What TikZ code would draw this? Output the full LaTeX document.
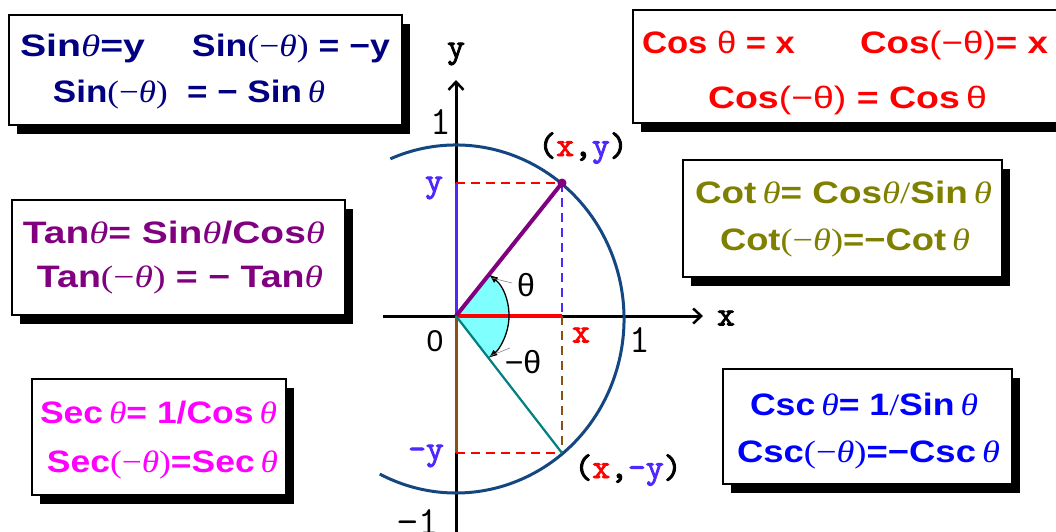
\documentclass[tikz,border=0pt]{standalone}
\usepackage{fontspec}
\setmainfont{Liberation Sans}
\newfontfamily\serf{Liberation Serif}
\newfontfamily\courb{lmmono10-regular}[Extension=.otf, FakeBold=2.5]
\usetikzlibrary{arrows.meta,shadows,calc}
\definecolor{navyc}{RGB}{0,0,128}
\definecolor{purp}{RGB}{128,0,128}
\definecolor{olivec}{RGB}{128,128,0}
\definecolor{magc}{RGB}{255,0,255}
\definecolor{bluec}{RGB}{0,0,255}
\definecolor{vio}{RGB}{80,40,255}
\definecolor{circc}{RGB}{20,70,130}
\definecolor{brownc}{RGB}{140,80,20}
\definecolor{tealc}{RGB}{0,128,128}
\definecolor{cyanf}{RGB}{128,255,255}
\newcommand\tht{{\serf\mdseries\itshape θ}}
\newcommand\mth{{\serf\mdseries(−\itshape θ\upshape)}}
\newcommand\uth{{\mdseries θ}}
\newcommand\umth{{\mdseries(−θ)}}
\newcommand\fw[2]{\resizebox{#1pt}{\height}{#2}}
\tikzset{
  panel/.style={draw=black, line width=1.2pt, fill=white, inner sep=0pt,
    general shadow={fill=black, shadow xshift=8pt, shadow yshift=-9pt}},
  eq/.style={anchor=base, inner sep=0pt, font=\fontsize{31}{33}\selectfont\bfseries},
  mlab/.style={inner sep=0pt, font=\courb\fontsize{34}{36}\selectfont},
  nlab/.style={inner sep=0pt, font=\ttfamily\fontsize{40}{42}\selectfont},
  zlab/.style={inner sep=0pt, font=\fontsize{30}{32}\selectfont},
  tlab/.style={inner sep=0pt, font=\fontsize{32}{34}\selectfont},
  axis/.style={line width=3pt, black},
  axarrow/.style={-{Straight Barb[length=8pt,width=15pt,line width=2.5pt]}},
  dsh/.style={line width=1.5pt, dash pattern=on 9pt off 6pt},
}
\begin{document}
\begin{tikzpicture}[x=1pt,y=-1pt]
\clip (0,0) rectangle (1056,531);
\fill[white] (0,0) rectangle (1056,531);
% panels
\node[panel, minimum width=393pt, minimum height=110pt] (sinbox) at (205.5,70) {};
\node[panel, minimum width=437pt, minimum height=113pt] (cosbox) at (851.5,66.5) {};
\node[panel, minimum width=333pt, minimum height=115pt] (tanbox) at (178.5,257.5) {};
\node[panel, minimum width=319pt, minimum height=117pt] (cotbox) at (842.5,218.5) {};
\node[panel, minimum width=254pt, minimum height=116pt] (secbox) at (159,437) {};
\node[panel, minimum width=289pt, minimum height=115pt] (cscbox) at (867.5,426.5) {};
% equations
\node[eq, text=navyc] (sin1a) at (82.5,56) {\fw{125}{Sin\tht=y}};
\node[eq, text=navyc] (sin1b) at (291,56) {\fw{198}{Sin\mth\ =\ −y}};
\node[eq, text=navyc] (sin2) at (189,102) {\fw{272}{Sin\mth\ \ = − Sin\,\tht}};
\node[eq, text=red] (cos1a) at (718.5,53) {\fw{153}{Cos \uth\ = x}};
\node[eq, text=red] (cos1b) at (954,53) {\fw{188}{Cos\umth= x}};
\node[eq, text=red] (cos2) at (847.5,108) {\fw{279}{Cos\umth\ = Cos\,\uth}};
\node[eq, text=purp] (tan1) at (174,243) {\fw{302}{Tan\tht = Sin\tht/Cos\tht}};
\node[eq, text=purp] (tan2) at (180,287) {\fw{286}{Tan\mth\ = − Tan\tht}};
\node[eq, text=olivec] (cot1) at (843.5,203) {\fw{297}{Cot\,\tht = Cos\tht{\serf\mdseries/}Sin\,\tht}};
\node[eq, text=olivec] (cot2) at (845,250) {\fw{250}{Cot\mth=−Cot\,\tht}};
\node[eq, text=magc] (sec1) at (158.5,423) {\fw{237}{Sec\,\tht = 1/Cos\,\tht}};
\node[eq, text=magc] (sec2) at (162.5,472) {\fw{231}{Sec\mth=Sec\,\tht}};
\node[eq, text=bluec] (csc1) at (864,415) {\fw{228}{Csc\,\tht = 1{\serf\mdseries/}Sin\,\tht}};
\node[eq, text=bluec] (csc2) at (868.5,462) {\fw{263}{Csc\mth=−Csc\,\tht}};
% unit circle diagram
\begin{scope}[shift={(456,316)}, y=1pt]
  \coordinate (O) at (0,0);
  \coordinate (P) at (106,133);
  \coordinate (Q) at (106,-137);
  \coordinate (Px) at (106,0);
  \coordinate (Py) at (0,133);
  \coordinate (Qy) at (0,-137);
  \coordinate (ytop) at (0,236);
  \coordinate (ybot) at (0,-230);
  \coordinate (xleft) at (-73,0);
  \coordinate (xright) at (247,0);
  \coordinate (C) at (0,-3);
  \fill[cyanf] (O) -- (-52.3:53) arc[start angle=-52.3, end angle=51.4, radius=53] -- cycle;
  \draw[axis, axarrow] (xleft) -- (xright);
  \draw[axis, axarrow] (ybot) -- (ytop);
  \draw[line width=3.5pt, red] (O) -- (Px);
  \draw[line width=3pt, vio] (O) -- (Py);
  \draw[line width=3pt, brownc] (O) -- (Qy);
  \draw[line width=3pt, circc] (C) ++(113:168 and 174) arc[start angle=113, end angle=-117, x radius=168, y radius=174];
  \draw[dsh, red] (Py) -- (P);
  \draw[dsh, vio] (P) -- (Px);
  \draw[dsh, brownc] (Px) -- (Q);
  \draw[dsh, red] (Qy) -- (Q);
  \draw[line width=4pt, purp] (O) -- (P);
  \draw[line width=2.2pt, tealc] (O) -- (Q);
  \fill[purp] (P) circle (4.5);
  \draw[line width=1.3pt, {Latex[length=9pt,width=7pt]}-{Latex[length=9pt,width=7pt]}] (51.4:53) arc[start angle=51.4, end angle=-52.3, radius=53];
  \coordinate (lt1) at (36,38);
  \coordinate (lt2) at (56,33);
  \coordinate (lb1) at (34,-40);
  \coordinate (lb2) at (54,-32);
  \draw[gray, line width=0.6pt] (lt1) -- (lt2);
  \draw[gray, line width=0.6pt] (lb1) -- (lb2);
\end{scope}
% labels
\node[mlab] (ylab) at (456,54) {y};
\node[mlab, anchor=base] (ptP) at (583,156) {(\textcolor{red}{x},\textcolor{vio}{y})};
\node[mlab, text=vio] (yl) at (434,188) {y};
\node[mlab, text=vio] (myl) at (426,456) {-y};
\node[mlab, text=red] (xl) at (581,335) {x};
\node[mlab, anchor=base] (ptQ) at (628,478) {(\textcolor{red}{x},\textcolor{vio}{-y})};
\node[mlab] (xax) at (726,318) {x};
\node[nlab] (one1) at (441,122) {1};
\node[nlab] (one2) at (640,340) {1};
\node[zlab] (zero) at (435,341) {0};
\node[nlab] (mone) at (418,522) {−1};
\node[tlab] (thl) at (526,285) {θ};
\node[tlab] (mthl) at (523,362) {−θ};
\end{tikzpicture}
\end{document}
